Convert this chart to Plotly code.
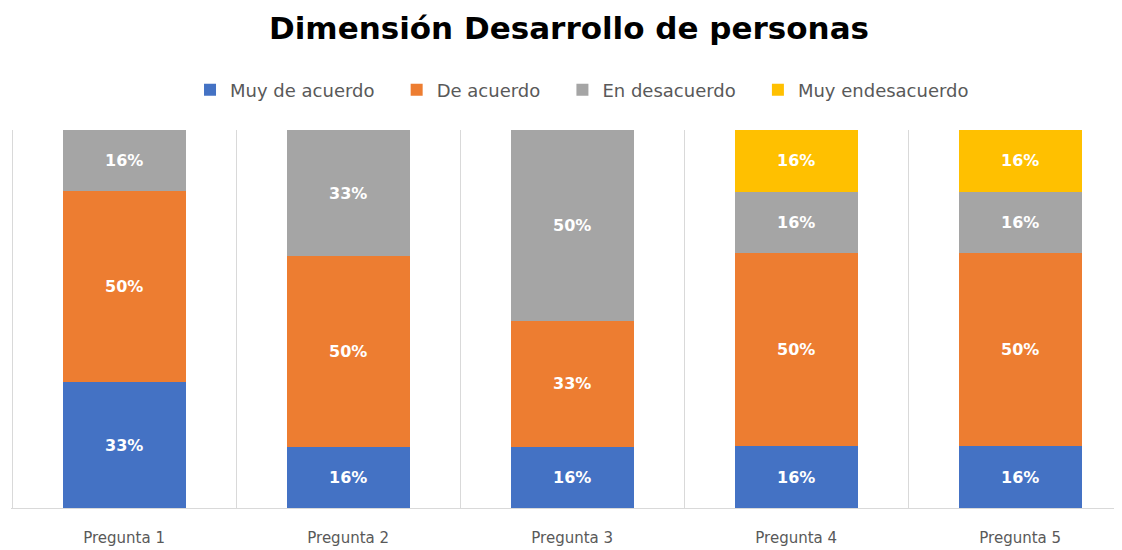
import plotly.graph_objects as go

categories = ["Pregunta 1", "Pregunta 2", "Pregunta 3", "Pregunta 4", "Pregunta 5"]
muy_de_acuerdo = [33, 16, 16, 16, 16]
de_acuerdo = [50, 50, 33, 50, 50]
en_desacuerdo = [16, 33, 50, 16, 16]
muy_endesacuerdo = [None, None, None, 16, 16]

series = [
    ("Muy de acuerdo", muy_de_acuerdo, "#4472C4"),
    ("De acuerdo", de_acuerdo, "#ED7D31"),
    ("En desacuerdo", en_desacuerdo, "#A5A5A5"),
    ("Muy endesacuerdo", muy_endesacuerdo, "#FFC000"),
]

FONT = "DejaVu Sans"
PAD = "\u00a0\u00a0\u00a0"

fig = go.Figure()
for name, vals, color in series:
    fig.add_trace(go.Bar(
        name=name + PAD,
        x=categories,
        y=vals,
        marker=dict(color=color, line=dict(width=0)),
        text=[f"<b>{v}%</b>" if v is not None else "" for v in vals],
        texttemplate="%{text}",
        textposition="inside",
        insidetextanchor="middle",
        textangle=0,
        textfont=dict(color="white", size=16, family=FONT),
        hoverinfo="skip",
    ))

fig.update_layout(
    barmode="stack",
    barnorm="percent",
    bargap=0.45,
    width=1122,
    height=550,
    paper_bgcolor="white",
    plot_bgcolor="white",
    margin=dict(l=3, r=0, t=122, b=50),
    title=dict(
        text="<b>Dimensión Desarrollo de personas</b>",
        x=0.5, xanchor="center",
        y=1 - 20 / 550, yanchor="middle",
        font=dict(size=31, color="black", family=FONT),
    ),
    legend=dict(
        orientation="h",
        x=0.5 + 20 / 1118, xanchor="center",
        y=1 + 40 / 378, yanchor="middle",
        font=dict(size=18, color="#595959", family=FONT),
        traceorder="normal",
        itemwidth=30,
    ),
    xaxis=dict(
        type="category",
        tickson="boundaries",
        showgrid=True,
        gridcolor="#D9D9D9",
        gridwidth=1,
        showline=True,
        linecolor="#D9D9D9",
        ticks="",
        ticklabelstandoff=16,
        range=[-0.505, 4.49],
        tickfont=dict(size=15, color="#595959", family=FONT),
        fixedrange=True,
    ),
    yaxis=dict(
        range=[0, 100],
        showgrid=False,
        showticklabels=False,
        zeroline=False,
        showline=False,
        fixedrange=True,
    ),
)

fig.write_html("out.html")
